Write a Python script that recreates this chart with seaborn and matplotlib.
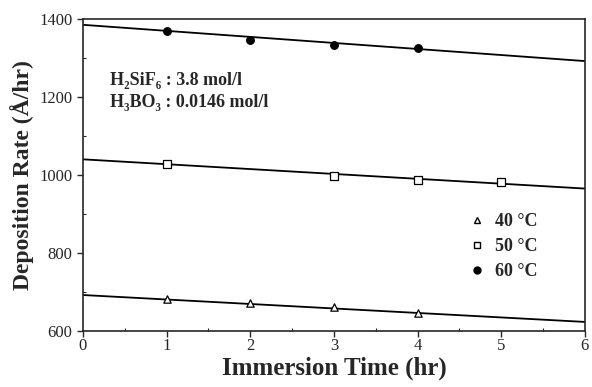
import pandas as pd
import matplotlib.pyplot as plt
import seaborn as sns
from matplotlib.ticker import MultipleLocator
from matplotlib.lines import Line2D

# --- data ---
temps = ['40 °C', '50 °C', '60 °C']

time_40 = [1, 2, 3, 4]
rate_40 = [682, 672, 662, 646]
time_50 = [1, 3, 4, 5]
rate_50 = [1028, 997, 987, 982]
time_60 = [1, 2, 3, 4]
rate_60 = [1369, 1346, 1333, 1326]

# fitted lines (end points)
fit_x = [0, 6]
fit_40 = [692, 623]
fit_50 = [1040, 965]
fit_60 = [1385, 1292]

fits = pd.concat([
    pd.DataFrame({'time': fit_x, 'rate': fit_40, 'temp': temps[0]}),
    pd.DataFrame({'time': fit_x, 'rate': fit_50, 'temp': temps[1]}),
    pd.DataFrame({'time': fit_x, 'rate': fit_60, 'temp': temps[2]}),
])

sns.set_style('ticks')
plt.rcParams['font.family'] = ['Liberation Serif', 'DejaVu Serif']

fig = plt.figure(figsize=(5.92, 3.87), dpi=100)
ax = fig.add_axes([0.140, 0.145, 0.848, 0.806])

sns.lineplot(data=fits, x='time', y='rate', units='temp', estimator=None,
             color='black', lw=1.3, ax=ax, legend=False)

# open triangles / open squares / filled circles
sns.scatterplot(x=time_40, y=rate_40, marker='^', s=28, ax=ax, zorder=3,
                facecolor='white', edgecolor='black', linewidth=0.9)
sns.scatterplot(x=time_50, y=rate_50, marker='s', s=28, ax=ax, zorder=3,
                facecolor='white', edgecolor='black', linewidth=0.9)
sns.scatterplot(x=time_60, y=rate_60, marker='o', s=30, ax=ax, zorder=3,
                facecolor='black', edgecolor='black', linewidth=0.9)

handles = [
    Line2D([], [], ls='none', marker='^', mfc='white', mec='black', ms=5),
    Line2D([], [], ls='none', marker='s', mfc='white', mec='black', ms=5),
    Line2D([], [], ls='none', marker='o', mfc='black', mec='black', ms=5),
]
ax.legend(handles, temps, loc='center left', bbox_to_anchor=(0.735, 0.27),
          frameon=False, prop={'weight': 'bold', 'size': 13},
          handletextpad=0.5, labelspacing=0.45, handlelength=1.0)

ax.text(0.055, 0.83, 'H₂SiF₆ : 3.8 mol/l\nH₃BO₃ : 0.0146 mol/l',
        transform=ax.transAxes, fontsize=13, fontweight='bold',
        va='top', ha='left', linespacing=1.4)

ax.set_xlim(0, 6)
ax.set_ylim(600, 1400)
ax.xaxis.set_major_locator(MultipleLocator(1))
ax.xaxis.set_minor_locator(MultipleLocator(0.5))
ax.yaxis.set_major_locator(MultipleLocator(200))
ax.yaxis.set_minor_locator(MultipleLocator(100))
ax.tick_params(which='major', direction='out', length=4, width=1, labelsize=12)
ax.tick_params(which='minor', direction='in', length=2.5, width=0.8)
ax.tick_params(axis='x', pad=1)
for sp in ax.spines.values():
    sp.set_linewidth(1.2)
    sp.set_visible(True)

ax.set_xlabel('Immersion Time (hr)', fontsize=18, fontweight='bold', labelpad=2)
ax.set_ylabel('Deposition Rate (Å/hr)', fontsize=17, fontweight='bold', labelpad=4)

plt.savefig('out.png', dpi=100)
